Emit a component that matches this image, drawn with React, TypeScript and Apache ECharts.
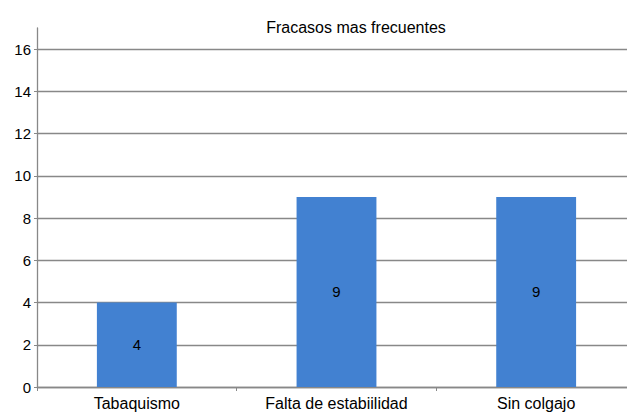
import React, { useEffect, useRef } from "react";
import * as echarts from "echarts";

const titleText = "Fracasos mas frecuentes";
const categories = ["Tabaquismo", "Falta de estabiilidad", "Sin colgajo"];
const values = [4, 9, 9];
const yTicks = [0, 2, 4, 6, 8, 10, 12, 14, 16];

export default function App() {
  const ref = useRef<HTMLDivElement>(null);
  useEffect(() => {
    const chart = echarts.init(ref.current!, null, { renderer: "svg" });
    const font = "'Liberation Sans', Arial, Helvetica, sans-serif";
    chart.setOption({
      animation: false,
      backgroundColor: "#ffffff",
      title: {
        text: titleText,
        left: 351,
        top: 14,
        textAlign: "center",
        textStyle: { fontFamily: font, fontSize: 16, fontWeight: "normal", color: "#000" },
      },
      grid: { left: 37, top: 28, width: 599, height: 359, containLabel: false },
      xAxis: {
        type: "category",
        data: categories,
        axisLine: { show: true, lineStyle: { color: "#888", width: 1.3 } },
        axisTick: { show: true, alignWithLabel: false, length: 4, lineStyle: { color: "#888" } },
        axisLabel: { fontFamily: font, fontSize: 16, color: "#000", margin: 8, interval: 0 },
        splitLine: { show: false },
      },
      yAxis: {
        type: "value",
        min: 0,
        max: 17,
        interval: 2,
        axisLine: { show: true, lineStyle: { color: "#888", width: 1.3 } },
        axisTick: { show: true, length: 3, customValues: yTicks, lineStyle: { color: "#888" } },
        axisLabel: {
          fontFamily: font,
          fontSize: 15,
          color: "#000",
          margin: 6,
          customValues: yTicks,
        },
        splitLine: { show: true, lineStyle: { color: "#888", width: 1.3 } },
      },
      series: [
        {
          type: "bar",
          data: values,
          barWidth: "40%",
          itemStyle: { color: "#4281d1" },
          label: {
            show: true,
            position: "inside",
            fontFamily: font,
            fontSize: 15,
            color: "#000",
          },
        },
      ],
    });
    return () => chart.dispose();
  }, []);
  return (
    <div style={{ width: 627, height: 412, position: "fixed", left: 0, top: 0, overflow: "hidden" }}>
      <div ref={ref} style={{ width: 640, height: 412 }} />
    </div>
  );
}
